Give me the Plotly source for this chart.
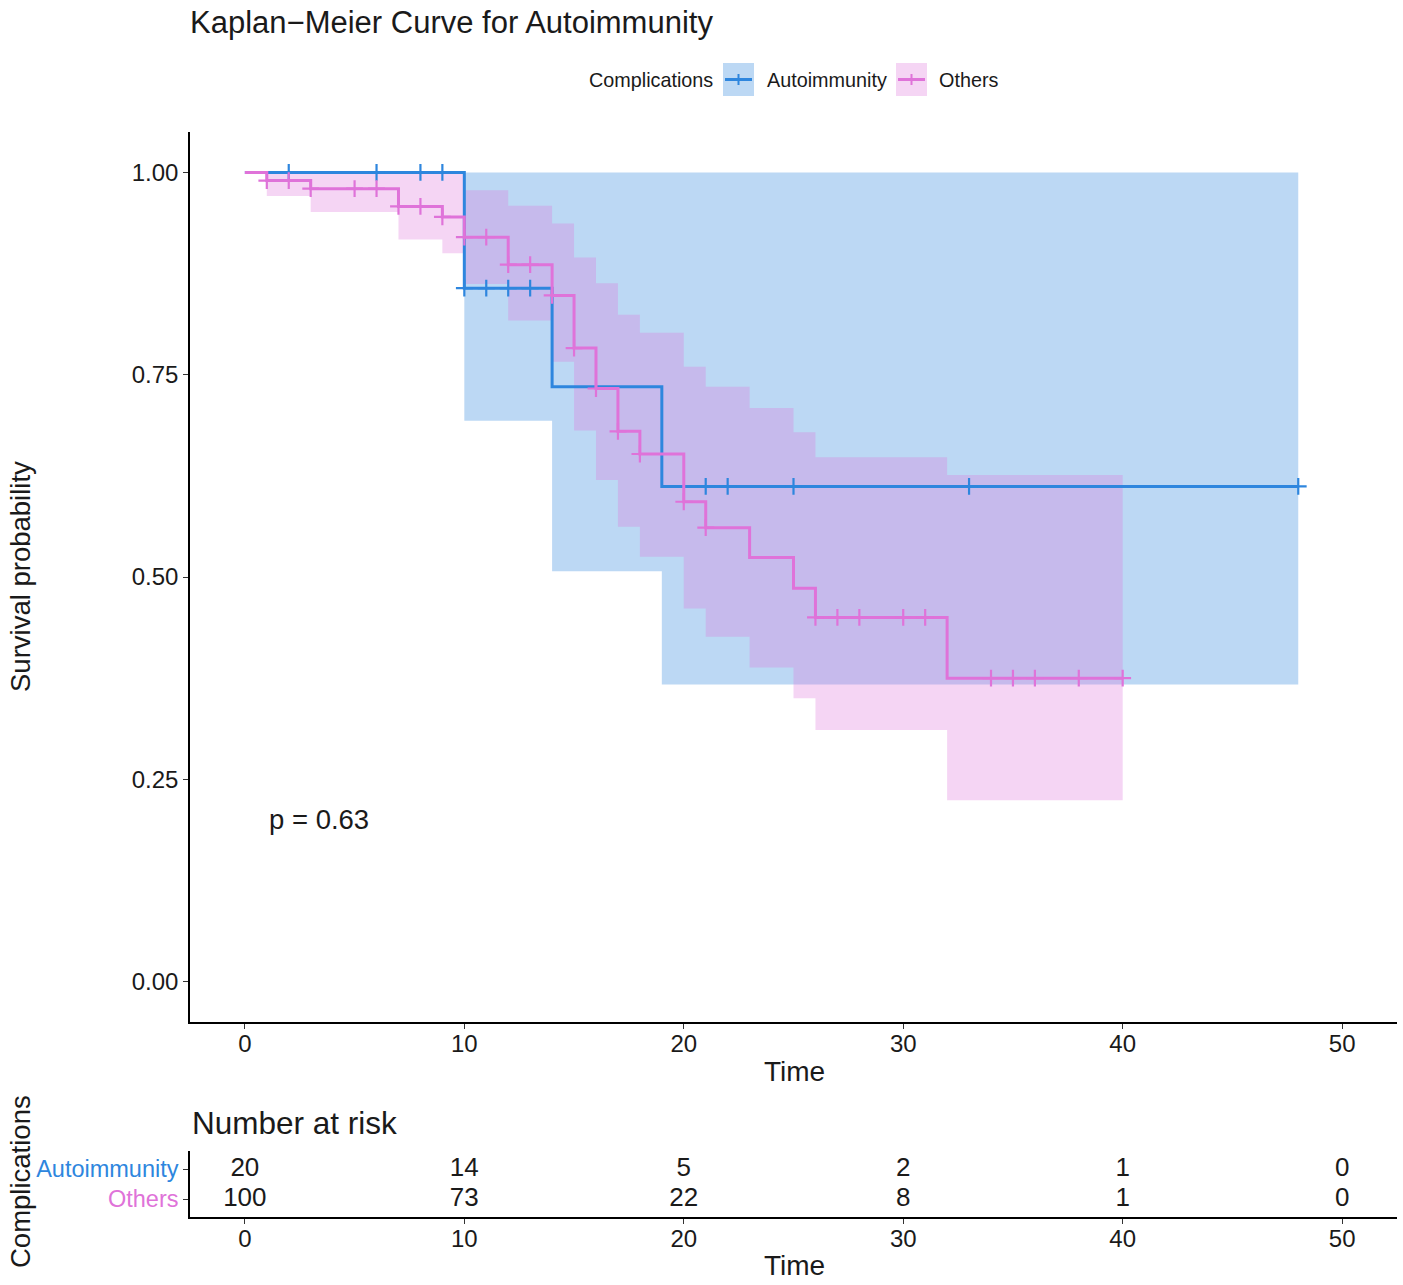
import numpy as np
import plotly.graph_objects as go

# ---------------- data ----------------
auto_time = [0, 10, 14, 19, 48]
auto_surv = [1.0, 0.857, 0.735, 0.612, 0.612]
auto_upper = [1.0, 1.0, 1.0, 1.0, 1.0]
auto_lower = [1.0, 0.693, 0.507, 0.367, 0.367]
auto_censor = [2, 6, 8, 9, 10, 11, 12, 13, 21, 22, 25, 33, 48]

oth_time = [0, 1, 3, 7, 9, 10, 12, 14, 15, 16, 17, 18, 20, 21, 23, 25, 26, 32, 40]
oth_surv = [1.0, 0.99, 0.98, 0.958, 0.945, 0.92, 0.886, 0.848, 0.783, 0.733,
            0.680, 0.652, 0.593, 0.561, 0.524, 0.486, 0.450, 0.375, 0.375]
oth_upper = [1.0, 1.0, 1.0, 1.0, 1.0, 0.978, 0.959, 0.937, 0.895, 0.863,
             0.824, 0.802, 0.760, 0.735, 0.709, 0.679, 0.648, 0.626, 0.626]
oth_lower = [1.0, 0.971, 0.951, 0.917, 0.900, 0.862, 0.817, 0.766, 0.681, 0.620,
             0.562, 0.525, 0.461, 0.426, 0.388, 0.350, 0.311, 0.224, 0.224]
oth_censor = [1, 2, 3, 5, 6, 7, 8, 9, 10, 11, 12, 13, 14, 15, 16, 17, 18, 20, 21,
              26, 27, 28, 30, 31, 34, 35, 36, 38, 40]

risk_times = [0, 10, 20, 30, 40, 50]
risk_auto = [20, 14, 5, 2, 1, 0]
risk_oth = [100, 73, 22, 8, 1, 0]

groups = ["Autoimmunity", "Others"]
y_ticks = [0.0, 0.25, 0.5, 0.75, 1.0]
y_ticktext = ["0.00", "0.25", "0.50", "0.75", "1.00"]
x_ticks = [0, 10, 20, 30, 40, 50]
p_text = "p = 0.63"

# ---------------- style ----------------
W, H = 1403, 1285
BLUE = "#2E86DE"
PINK = "#DF73D9"
BLUE_F = "rgba(46,134,222,0.32)"
PINK_F = "rgba(223,115,217,0.30)"
FONT = "Liberation Sans, Arial, sans-serif"
TXT = "#1a1a1a"


def px_x(p):
    return p / W


def px_y(p):
    return 1 - p / H


def step_at(times, surv, ts):
    idx = np.searchsorted(np.array(times), np.array(ts), side="right") - 1
    return [surv[i] for i in idx]


fig = go.Figure()

# confidence bands
for t, lo, up, fc in [(auto_time, auto_lower, auto_upper, BLUE_F),
                      (oth_time, oth_lower, oth_upper, PINK_F)]:
    fig.add_trace(go.Scatter(x=t, y=lo, mode="lines", line=dict(width=0, shape="hv"),
                             showlegend=False, hoverinfo="skip", xaxis="x", yaxis="y"))
    fig.add_trace(go.Scatter(x=t, y=up, mode="lines", line=dict(width=0, shape="hv"),
                             fill="tonexty", fillcolor=fc, showlegend=False,
                             hoverinfo="skip", xaxis="x", yaxis="y"))

# curves + censor marks
for t, s, cens, col, name in [(auto_time, auto_surv, auto_censor, BLUE, groups[0]),
                              (oth_time, oth_surv, oth_censor, PINK, groups[1])]:
    fig.add_trace(go.Scatter(x=t, y=s, mode="lines", line=dict(color=col, width=3, shape="hv"),
                             name=name, showlegend=False, xaxis="x", yaxis="y"))
    fig.add_trace(go.Scatter(x=cens, y=step_at(t, s, cens), mode="markers",
                             marker=dict(symbol="cross-thin", size=12,
                                         line=dict(color=col, width=2.2)),
                             showlegend=False, xaxis="x", yaxis="y"))

# risk table numbers
fig.add_trace(go.Scatter(x=risk_times + risk_times,
                         y=[2] * len(risk_times) + [1] * len(risk_times),
                         text=[str(v) for v in risk_auto + risk_oth],
                         mode="text", textfont=dict(family=FONT, size=26, color=TXT),
                         showlegend=False, xaxis="x2", yaxis="y2"))

axis_common = dict(showline=True, linecolor="black", linewidth=1.6, ticks="outside",
                   ticklen=5, tickwidth=1.4, tickcolor="#333333", showgrid=False,
                   zeroline=False, tickfont=dict(family=FONT, size=24, color=TXT))

fig.update_layout(
    width=W, height=H, autosize=False,
    margin=dict(l=0, r=0, t=0, b=0),
    paper_bgcolor="white", plot_bgcolor="white",
    showlegend=False,
    xaxis=dict(domain=[px_x(190), px_x(1397)], range=[-2.5, 52.5], tickvals=x_ticks,
               anchor="y", ticklabelstandoff=-6, **axis_common),
    yaxis=dict(domain=[px_y(1022), px_y(132)], range=[-0.05, 1.05], tickvals=y_ticks,
               ticktext=y_ticktext, anchor="x", **axis_common),
    xaxis2=dict(domain=[px_x(190), px_x(1397)], range=[-2.5, 52.5], tickvals=x_ticks,
                anchor="y2", ticklabelstandoff=-6, **axis_common),
    yaxis2=dict(domain=[px_y(1217), px_y(1151)], range=[0.4, 2.6], tickvals=[2, 1],
                ticktext=[f'<span style="color:{BLUE}">{groups[0]}</span>',
                          f'<span style="color:{PINK}">{groups[1]}</span>'],
                anchor="x2", **{**axis_common,
                               "tickfont": dict(family=FONT, size=23.5, color=TXT)}),
    title=dict(text="Kaplan\u2212Meier Curve for Autoimmunity", x=px_x(190), xanchor="left",
               y=px_y(22), yanchor="middle", font=dict(family=FONT, size=31, color=TXT)),
)


def note(x, y, text, size, xanchor="center", angle=0, xref="paper", yref="paper"):
    return dict(x=x, y=y, xref=xref, yref=yref, text=text, showarrow=False,
                xanchor=xanchor, yanchor="middle", textangle=angle,
                font=dict(family=FONT, size=size, color=TXT))


ann = [
    note(1, 0.2, p_text, 27.5, xanchor="left", xref="x", yref="y"),
    note(px_x(794), px_y(1071), "Time", 28),
    note(px_x(794), px_y(1265), "Time", 28),
    note(px_x(20), px_y(577), "Survival probability", 27.5, angle=-90),
    note(px_x(20), px_y(1182), "Complications", 27.5, angle=-90),
    note(px_x(190), px_y(1123), "Number at risk", 31.5, xanchor="left"),
    note(px_x(715), px_y(80), "Complications", 19.8, xanchor="right"),
    note(px_x(765), px_y(80), groups[0], 19.8, xanchor="left"),
    note(px_x(937), px_y(80), groups[1], 19.8, xanchor="left"),
]
fig.update_layout(annotations=ann)

# legend keys
shapes = []
for x0, fc, col in [(723, BLUE_F, BLUE), (896, PINK_F, PINK)]:
    shapes.append(dict(type="rect", xref="paper", yref="paper", x0=px_x(x0), x1=px_x(x0 + 31),
                       y0=px_y(96), y1=px_y(63), fillcolor=fc, line=dict(width=0), layer="below"))
    shapes.append(dict(type="line", xref="paper", yref="paper", x0=px_x(x0 + 2), x1=px_x(x0 + 29),
                       y0=px_y(79.5), y1=px_y(79.5), line=dict(color=col, width=3)))
    shapes.append(dict(type="line", xref="paper", yref="paper", x0=px_x(x0 + 15.5), x1=px_x(x0 + 15.5),
                       y0=px_y(74), y1=px_y(85), line=dict(color=col, width=2)))
fig.update_layout(shapes=shapes)

fig.write_html("out.html", config={"displayModeBar": False},
               post_script="document.body.style.margin='0';")
